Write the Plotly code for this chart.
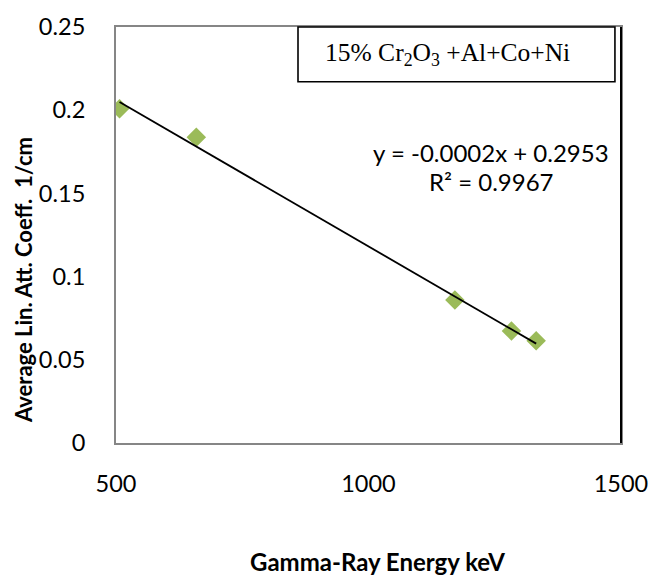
import numpy as np
import plotly.graph_objects as go

# Data
energy_kev = [507, 659, 1171, 1283, 1332]
lin_att_coeff = [0.2009, 0.1837, 0.0859, 0.0673, 0.0614]

x_ticks = [500, 1000, 1500]
y_ticks = [0, 0.05, 0.1, 0.15, 0.2, 0.25]
y_tick_labels = ["0", "0.05", "0.1", "0.15", "0.2", "0.25"]

legend_text = "15% Cr<sub>2</sub>O<sub>3</sub> +Al+Co+Ni"
eq_line1 = "y = -0.0002x + 0.2953"
eq_line2 = "R² = 0.9967"
x_title = "Gamma-Ray Energy keV"
y_title = "Average Lin. Att. Coeff.  1/cm"

# Linear trendline fitted to the data
slope, intercept = np.polyfit(energy_kev, lin_att_coeff, 1)
trend_x = [min(energy_kev), max(energy_kev)]
trend_y = [slope * v + intercept for v in trend_x]

SANS = "Lato"
fig = go.Figure()
fig.add_trace(go.Scatter(
    x=energy_kev, y=lin_att_coeff, mode="markers",
    marker=dict(symbol="diamond", size=15, color="#9BBB59", line=dict(width=0)),
    showlegend=False, hoverinfo="skip"))
fig.add_trace(go.Scatter(
    x=trend_x, y=trend_y, mode="lines",
    line=dict(color="black", width=1.8), showlegend=False, hoverinfo="skip"))

axis_common = dict(showgrid=False, zeroline=False, showline=True, linecolor="#868686",
                   linewidth=2, mirror=True, ticks="",
                   tickfont=dict(family=SANS, size=23.5, color="black"))
fig.update_xaxes(range=[500, 1500], tickvals=x_ticks, ticklabelstandoff=19, **axis_common)
fig.update_yaxes(range=[0, 0.25], tickvals=y_ticks, ticktext=y_tick_labels,
                 ticklabelstandoff=24, **axis_common)

# right border (black) and legend-like box
fig.add_shape(type="line", xref="paper", yref="paper", x0=1, x1=1, y0=0, y1=1,
              line=dict(color="black", width=2))
fig.add_shape(type="rect", xref="paper", yref="paper", x0=0.3604, x1=0.988,
              y0=0.8685, y1=1, line=dict(color="black", width=1.6), fillcolor="white")


def note(x, y, text, size, family=SANS, angle=0):
    fig.add_annotation(xref="paper", yref="paper", x=x, y=y, text=text, textangle=angle,
                       xanchor="center", yanchor="middle", showarrow=False,
                       font=dict(family=family, size=size, color="black"))


note(0.6564, 0.934, legend_text, 25.5, family="Liberation Serif")
note(0.7426, 0.6995, eq_line1, 24)
note(0.7426, 0.629, eq_line2, 24)
note(0.517, -0.284, "<b>" + x_title + "</b>", 24)
note(-0.182, 0.392, "<b>" + y_title + "</b>", 22, angle=-90)

fig.update_layout(width=667, height=577, margin=dict(l=116, r=46, t=17, b=134),
                  paper_bgcolor="white", plot_bgcolor="white")
fig.write_html("out.html")
